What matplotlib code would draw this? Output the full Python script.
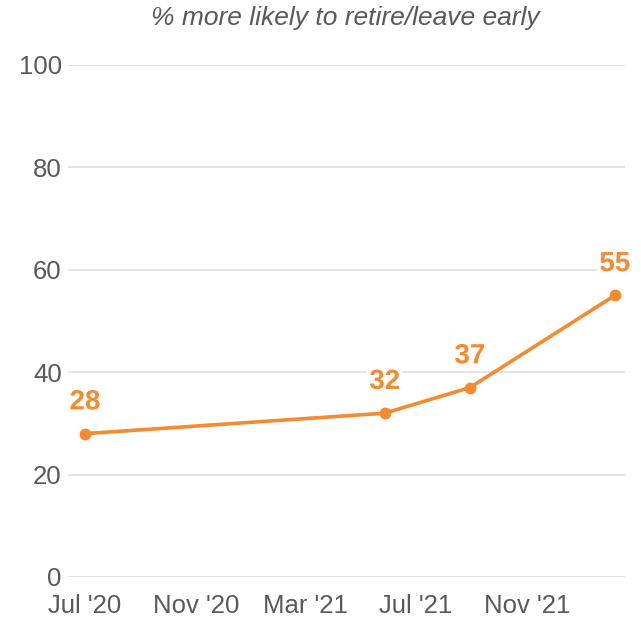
import matplotlib
matplotlib.use("Agg")
import matplotlib.pyplot as plt
import matplotlib.dates as mdates
import matplotlib.patheffects as pe
import datetime as dt

dates = [dt.date(2020, 7, 1), dt.date(2021, 5, 28), dt.date(2021, 8, 30), dt.date(2022, 2, 6)]
values = [28, 32, 37, 55]
tick_dates = [dt.date(2020, 7, 1), dt.date(2020, 11, 1), dt.date(2021, 3, 1), dt.date(2021, 7, 1), dt.date(2021, 11, 1)]
tick_labels = ["Jul '20", "Nov '20", "Mar '21", "Jul '21", "Nov '21"]
title = "% more likely to retire/leave early"

plt.rcParams['font.family'] = ['Liberation Sans', 'DejaVu Sans']
orange = "#F58A2E"
gray = "#595959"

fig = plt.figure(figsize=(6.41, 6.21), dpi=100)
ax = fig.add_axes([68/641, 1-577/621, (625-68)/641, (577-65)/621])

x = mdates.date2num(dates)
ax.plot(x, values, color=orange, lw=2.6, marker='o', ms=7.5, zorder=3, solid_capstyle='round')
for xi, v in zip(x, values):
    ax.annotate(str(v), (xi, v), xytext=(0, 22.5), textcoords='offset points', ha='center', va='center',
                fontsize=20, fontweight='bold', color=orange, zorder=4,
                path_effects=[pe.withStroke(linewidth=6, foreground='white')])

ax.set_ylim(0, 100)
ax.set_yticks([0, 20, 40, 60, 80, 100])
x0 = mdates.date2num(dt.date(2020, 7, 1))
x1 = mdates.date2num(dt.date(2021, 11, 1))
ppd = (527-85) / (x1 - x0)
ax.set_xlim(x0 - 17/ppd, x0 + (625-85)/ppd)
ax.set_xticks(mdates.date2num(tick_dates))
ax.set_xticklabels(tick_labels)
ax.grid(axis='y', color='#e3e3e3', lw=1.4)
ax.set_axisbelow(True)
for s in ax.spines.values():
    s.set_visible(False)
ax.tick_params(axis='both', length=0, labelsize=18.5, colors=gray)
ax.tick_params(axis='y', pad=4.5)
ax.tick_params(axis='x', pad=12)
fig.text(345/641, 1-18/621, title, ha='center', va='center', fontsize=19, style='italic', color=gray)
fig.savefig("out.png", dpi=100, facecolor='white')
